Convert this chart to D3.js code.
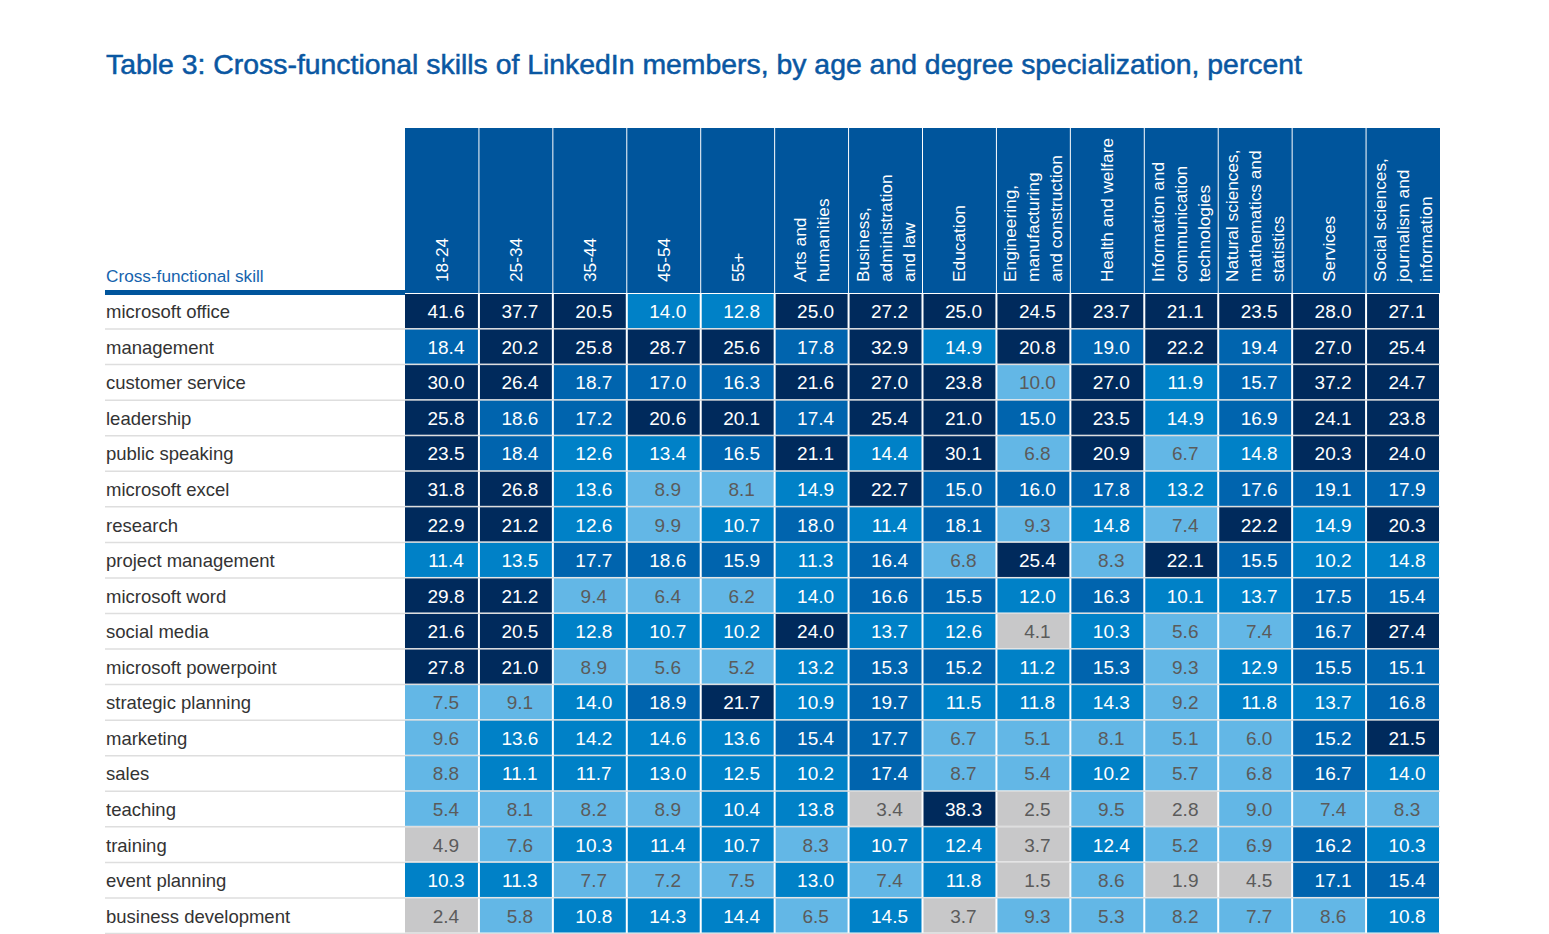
<!DOCTYPE html>
<html>
<head>
<meta charset="utf-8">
<script src="https://cdn.jsdelivr.net/npm/d3@7"></script>
<style>
  body { margin: 0; background: #fff; }
  text { font-family: "Liberation Sans", Arial, sans-serif; }
</style>
</head>
<body>
<svg id="chart" width="1549" height="934"></svg>
<script>
let skills = ["microsoft office", "management", "customer service", "leadership",
  "public speaking", "microsoft excel", "research", "project management",
  "microsoft word", "social media", "microsoft powerpoint", "strategic planning",
  "marketing", "sales", "teaching", "training", "event planning", "business development"]

let columns = ["18-24", "25-34", "35-44", "45-54", "55+", "Arts", "Business", "Education",
  "Engineering", "Health", "ICT", "Natural sciences", "Services", "Social sciences"]

// header lines as printed (rotated)
let column_labels = [["18-24"], ["25-34"], ["35-44"], ["45-54"], ["55+"],
  ["Arts and", "humanities"],
  ["Business,", "administration", "and law"],
  ["Education"],
  ["Engineering,", "manufacturing", "and construction"],
  ["Health and welfare"],
  ["Information and", "communication", "technologies"],
  ["Natural sciences,", "mathematics and", "statistics"],
  ["Services"],
  ["Social sciences,", "journalism and", "information"]]

let values = [
  [41.6, 37.7, 20.5, 14.0, 12.8, 25.0, 27.2, 25.0, 24.5, 23.7, 21.1, 23.5, 28.0, 27.1],
  [18.4, 20.2, 25.8, 28.7, 25.6, 17.8, 32.9, 14.9, 20.8, 19.0, 22.2, 19.4, 27.0, 25.4],
  [30.0, 26.4, 18.7, 17.0, 16.3, 21.6, 27.0, 23.8, 10.0, 27.0, 11.9, 15.7, 37.2, 24.7],
  [25.8, 18.6, 17.2, 20.6, 20.1, 17.4, 25.4, 21.0, 15.0, 23.5, 14.9, 16.9, 24.1, 23.8],
  [23.5, 18.4, 12.6, 13.4, 16.5, 21.1, 14.4, 30.1, 6.8, 20.9, 6.7, 14.8, 20.3, 24.0],
  [31.8, 26.8, 13.6, 8.9, 8.1, 14.9, 22.7, 15.0, 16.0, 17.8, 13.2, 17.6, 19.1, 17.9],
  [22.9, 21.2, 12.6, 9.9, 10.7, 18.0, 11.4, 18.1, 9.3, 14.8, 7.4, 22.2, 14.9, 20.3],
  [11.4, 13.5, 17.7, 18.6, 15.9, 11.3, 16.4, 6.8, 25.4, 8.3, 22.1, 15.5, 10.2, 14.8],
  [29.8, 21.2, 9.4, 6.4, 6.2, 14.0, 16.6, 15.5, 12.0, 16.3, 10.1, 13.7, 17.5, 15.4],
  [21.6, 20.5, 12.8, 10.7, 10.2, 24.0, 13.7, 12.6, 4.1, 10.3, 5.6, 7.4, 16.7, 27.4],
  [27.8, 21.0, 8.9, 5.6, 5.2, 13.2, 15.3, 15.2, 11.2, 15.3, 9.3, 12.9, 15.5, 15.1],
  [7.5, 9.1, 14.0, 18.9, 21.7, 10.9, 19.7, 11.5, 11.8, 14.3, 9.2, 11.8, 13.7, 16.8],
  [9.6, 13.6, 14.2, 14.6, 13.6, 15.4, 17.7, 6.7, 5.1, 8.1, 5.1, 6.0, 15.2, 21.5],
  [8.8, 11.1, 11.7, 13.0, 12.5, 10.2, 17.4, 8.7, 5.4, 10.2, 5.7, 6.8, 16.7, 14.0],
  [5.4, 8.1, 8.2, 8.9, 10.4, 13.8, 3.4, 38.3, 2.5, 9.5, 2.8, 9.0, 7.4, 8.3],
  [4.9, 7.6, 10.3, 11.4, 10.7, 8.3, 10.7, 12.4, 3.7, 12.4, 5.2, 6.9, 16.2, 10.3],
  [10.3, 11.3, 7.7, 7.2, 7.5, 13.0, 7.4, 11.8, 1.5, 8.6, 1.9, 4.5, 17.1, 15.4],
  [2.4, 5.8, 10.8, 14.3, 14.4, 6.5, 14.5, 3.7, 9.3, 5.3, 8.2, 7.7, 8.6, 10.8]
]

let bin_breaks = [5, 10.05, 15, 20]

function make_scales() {
  return {
    x: d3.scaleBand().domain(columns).range([405, 1440]),
    y: d3.scaleBand().domain(skills).range([294, 934]),
    fill: d3.scaleThreshold()
      .domain(bin_breaks)
      .range(["#c8c8c9", "#63b7e6", "#0081c7", "#0064ae", "#002a5c"]),
    ink: d3.scaleThreshold()
      .domain([10.05])
      .range(["#5b5b5b", "#ffffff"])
  }
}

function draw_title(svg) {
  svg.append("text")
    .attr("x", 106)
    .attr("y", 74)
    .attr("fill", "#0a57a2")
    .attr("stroke", "#0a57a2")
    .attr("stroke-width", 0.5)
    .attr("textLength", 1196)
    .attr("lengthAdjust", "spacingAndGlyphs")
    .style("font-size", "27.5px")
    .text("Table 3: Cross-functional skills of LinkedIn members, by age and degree specialization, percent")
}

function draw_header(svg, scales) {
  let top = 128,
      bottom = scales.y.range()[0] - 1;

  svg.append("rect")
    .attr("x", scales.x.range()[0])
    .attr("y", top)
    .attr("width", scales.x.range()[1] - scales.x.range()[0])
    .attr("height", bottom - top)
    .attr("fill", "#00559c")

  // white separators between header columns
  svg.append("g")
    .selectAll("line")
    .data(columns.slice(1)).enter()
    .append("line")
    .attr("x1", d => scales.x(d))
    .attr("x2", d => scales.x(d))
    .attr("y1", top)
    .attr("y2", bottom)
    .attr("stroke", "#fff")
    .attr("stroke-width", 1)

  let heads = svg.append("g")
    .selectAll("g")
    .data(columns).enter()
    .append("g")
    .attr("transform", d => `translate(${scales.x(d) + scales.x.bandwidth() / 2},282) rotate(-90)`)

  heads.selectAll("text")
    .data((d, i) => column_labels[i].map((t, j, all) => ({t: t, off: (j - (all.length - 1) / 2) * 23})))
    .enter()
    .append("text")
    .attr("x", 0)
    .attr("y", d => d.off + 6)
    .attr("fill", "#fff")
    .style("font-size", "17.3px")
    .text(d => d.t)

  svg.append("text")
    .attr("x", 106)
    .attr("y", 282)
    .attr("fill", "#1563ad")
    .style("font-size", "17.2px")
    .text("Cross-functional skill")

  svg.append("rect")
    .attr("x", 105)
    .attr("y", 290)
    .attr("width", scales.x.range()[0] - 105)
    .attr("height", 5)
    .attr("fill", "#00559c")
}

function draw_rows(svg, scales) {
  let rows = svg.append("g")
    .selectAll("g")
    .data(skills).enter()
    .append("g")
    .attr("transform", d => `translate(0,${scales.y(d)})`)

  let h = scales.y.bandwidth()

  rows.append("line")
    .attr("x1", 105)
    .attr("x2", scales.x.range()[1])
    .attr("y1", h - 0.5)
    .attr("y2", h - 0.5)
    .attr("stroke", "#dedede")
    .attr("stroke-width", 1.5)

  rows.append("text")
    .attr("x", 106)
    .attr("y", h / 2 + 6.5)
    .attr("fill", "#333")
    .style("font-size", "18.5px")
    .text(d => d)

  let cells = rows.selectAll("g.cell")
    .data((d, i) => values[i].map((v, j) => ({col: columns[j], v: v})))
    .enter()
    .append("g")
    .attr("class", "cell")

  cells.append("rect")
    .attr("x", d => scales.x(d.col) + (d.col == columns[0] ? 0 : 1))
    .attr("y", 0)
    .attr("width", d => scales.x.bandwidth() - (d.col == columns[0] ? 1 : 2))
    .attr("height", h - 1.5)
    .attr("fill", d => scales.fill(d.v))

  cells.append("text")
    .attr("x", d => scales.x(d.col) + scales.x.bandwidth() / 2 + 4)
    .attr("y", h / 2 + 6.5)
    .attr("text-anchor", "middle")
    .attr("fill", d => scales.ink(d.v))
    .style("font-size", "19px")
    .text(d => d.v.toFixed(1))
}

let scales = make_scales(),
    svg = d3.select("#chart");

draw_title(svg)
draw_header(svg, scales)
draw_rows(svg, scales)
</script>
</body>
</html>
